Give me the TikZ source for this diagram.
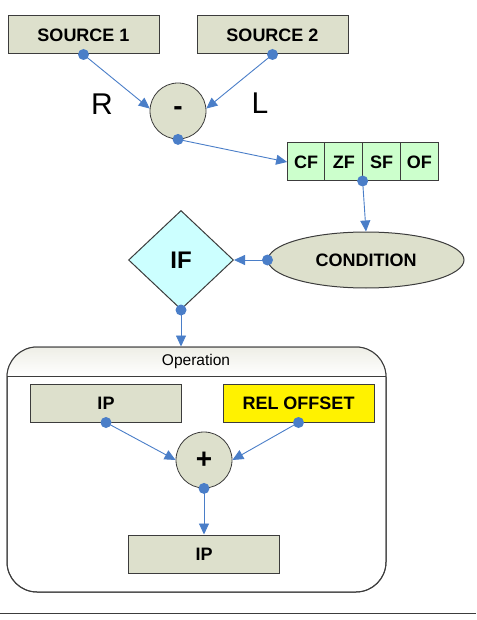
\documentclass[tikz,border=0pt]{standalone}
\usepackage{fontspec}
\setmainfont{Liberation Sans}
\usetikzlibrary{arrows.meta,positioning,shapes.geometric}
\definecolor{boxc}{RGB}{221,224,204}
\definecolor{flagc}{RGB}{204,255,204}
\definecolor{ifc}{RGB}{204,255,255}
\definecolor{blu}{RGB}{74,126,200}
\definecolor{edgec}{RGB}{60,60,60}
\definecolor{headc}{RGB}{238,238,230}

\begin{document}
\begin{tikzpicture}[x=1pt,y=-1pt,
  box/.style={draw=edgec,fill=boxc,line width=1pt,minimum width=151pt,minimum height=38pt,inner sep=0pt,font=\fontsize{18}{20}\selectfont\bfseries},
  flag/.style={box,fill=flagc,minimum width=37.75pt,outer sep=0pt},
  op/.style={draw=edgec,fill=boxc,circle,line width=0.8pt,minimum size=56pt,inner sep=0pt,font=\fontsize{28}{30}\selectfont\bfseries},
  conn/.style={draw=blu,line width=0.9pt,-{Triangle[length=11pt,width=10pt]}},
  dot/.style={fill=blu}]
  \useasboundingbox (0,0) rectangle (476,620);
  \node[box] (src1) at (83.5,35) {SOURCE 1};
  \node[box] (src2) at (272.5,35) {SOURCE 2};
  \node[op] (sub) at (178,111) {-};
  \node[font=\fontsize{30}{32}\selectfont] (r) at (102,104) {R};
  \node[font=\fontsize{30}{32}\selectfont] (l) at (260,103) {L};
  \node[flag] (cf) at (306,162) {CF};
  \node[flag,right=0pt of cf] (zf) {ZF};
  \node[flag,right=0pt of zf] (sf) {SF};
  \node[flag,right=0pt of sf] (of) {OF};
  \node[box,ellipse,minimum width=196pt,minimum height=56pt] (cond) at (366,260) {CONDITION};
  \node[box,diamond,fill=ifc,minimum width=105pt,minimum height=99pt,font=\fontsize{24}{26}\selectfont\bfseries] (iff) at (181,260) {IF};
  \draw[conn] (src1.south) -- (sub.175);
  \draw[conn] (src2.south) -- (sub.5);
  \draw[conn] (sub.south) -- (cf.west);
  \draw[conn] (zf.south east) -- (cond.north);
  \draw[conn] (cond.west) -- (iff.east);
  \node[draw=edgec,line width=1pt,rounded corners=30pt,minimum width=379pt,minimum height=245pt] (oper) at (196.5,469.5) {};
  \begin{scope}
    \clip[rounded corners=30pt] (7,347) rectangle (386,592);
    \shade[top color=headc,bottom color=white] (7,347) rectangle (386,376);
  \end{scope}
  \draw[draw=edgec,line width=1pt,rounded corners=30pt] (7,347) rectangle (386,592);
  \draw[edgec,line width=1pt] (7,376) -- (386,376);
  \node[font=\fontsize{15.5}{17}\selectfont] (title) at (196,361) {Operation};
  \draw[conn] (iff.south) -- (iff.south |- oper.north);
  \node[box] (ip) at (106,403) {IP};
  \node[box,fill=yellow] (rel) at (298.5,403) {REL OFFSET};
  \node[op] (add) at (204,460) {+};
  \node[box] (ipout) at (204,554) {IP};
  \draw[conn] (ip.south) -- (add.west);
  \draw[conn] (rel.south) -- (add.east);
  \draw[conn] (add.south) -- (ipout.north);
  \foreach \d in {src1.south,src2.south,sub.south,zf.south east,cond.west,iff.south,ip.south,rel.south,add.south}
    \fill[dot] (\d) circle (5.5pt);
  \draw[edgec,line width=1pt] (0,613) -- (476,613);
\end{tikzpicture}
\end{document}
